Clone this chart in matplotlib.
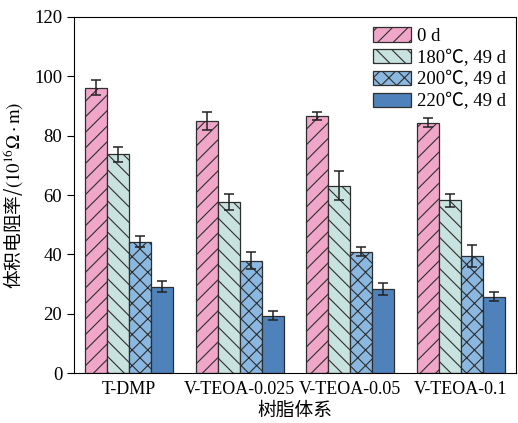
import numpy as np
import matplotlib
matplotlib.use("Agg")
import matplotlib.pyplot as plt

# hatch spacing follows the dpi, so render at 140 dpi and shrink point sizes to match
DPI = 140
S = 100 / DPI

plt.rcParams['font.family'] = ['Liberation Serif', 'Noto Sans CJK SC']
plt.rcParams['mathtext.fontset'] = 'stix'
plt.rcParams['hatch.linewidth'] = 0.8 * S
plt.rcParams['axes.linewidth'] = 0.8 * S

groups = ["T-DMP", "V-TEOA-0.025", "V-TEOA-0.05", "V-TEOA-0.1"]
series = ["0 d", "180℃, 49 d", "200℃, 49 d", "220℃, 49 d"]

vals_0d = [96.2, 84.9, 86.7, 84.3]
vals_180 = [73.7, 57.6, 63.2, 58.2]
vals_200 = [44.3, 37.9, 40.9, 39.3]
vals_220 = [29.1, 19.4, 28.3, 25.7]

err_0d = [2.4, 3.0, 1.4, 1.5]
err_180 = [2.6, 2.8, 5.0, 2.1]
err_200 = [1.9, 2.9, 1.5, 3.7]
err_220 = [1.8, 1.5, 2.1, 1.5]

colors = ['#f0a6c8', '#c8e2df', '#8ab8e0', '#4f82bb']
hatches = ['///', '\\\\\\', 'xxx', '']

values = [vals_0d, vals_180, vals_200, vals_220]
errors = [err_0d, err_180, err_200, err_220]

fig = plt.figure(figsize=(518 / DPI, 423 / DPI), dpi=DPI)
ax = fig.add_axes([0.143, 0.118, 0.853, 0.842])

x = np.arange(len(groups))
width = 0.2
for i, (name, v, e) in enumerate(zip(series, values, errors)):
    pos = x + (i - 1.5) * width
    ax.bar(pos, v, width, color=colors[i], edgecolor='#2e2e2e',
           linewidth=0.9 * S, hatch=hatches[i], label=name)
    ax.errorbar(pos, v, yerr=e, fmt='none', ecolor='#222222',
                elinewidth=1.1 * S, capsize=3.5 * S, capthick=1.1 * S)

ax.set_xlim(-0.5, 3.5)
ax.set_ylim(0, 120)
ax.set_yticks(range(0, 121, 20))
ax.set_xticks(x)
ax.set_xticklabels(groups)
ax.tick_params(axis='x', length=0, labelsize=13 * S, pad=6 * S)
ax.tick_params(axis='y', direction='out', length=5 * S, width=0.8 * S,
               labelsize=13.5 * S, pad=3.5 * S)
# mathtext renders the non-math part with the label's first family, so use the CJK font here
ax.set_ylabel(r"体积电阻率/$(10^{16}\Omega\cdot\mathrm{m})$", fontsize=13.5 * S,
              family='Noto Sans CJK SC', labelpad=6 * S)
ax.set_xlabel("树脂体系", fontsize=13.5 * S, labelpad=3 * S)

ax.legend(loc='upper right', frameon=False, fontsize=13.5 * S,
          handlelength=2.0, handleheight=0.8, labelspacing=0.22,
          handletextpad=0.3, borderaxespad=0.15)

fig.savefig("out.png", dpi=DPI)
